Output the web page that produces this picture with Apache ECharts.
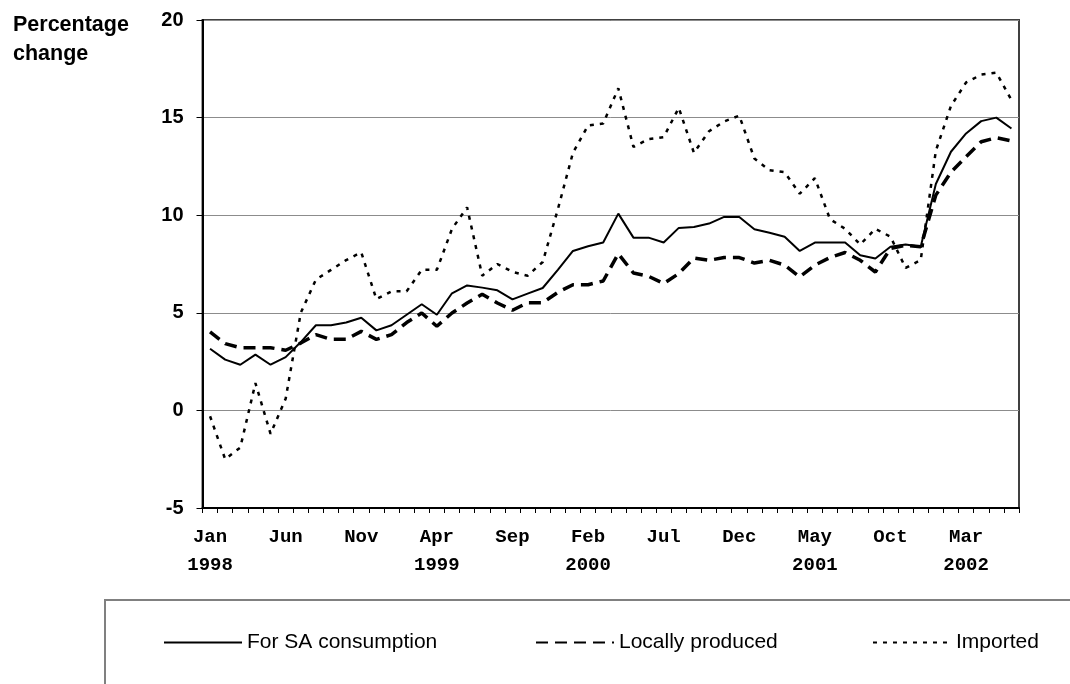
<!DOCTYPE html>
<html>
<head>
<meta charset="utf-8">
<script src="https://cdn.jsdelivr.net/npm/echarts@6/dist/echarts.min.js"></script>
<style>html,body{margin:0;padding:0;background:#fff;}#c{width:1070px;height:684px;}</style>
</head>
<body>
<div id="c"></div>
<script>
// ---- data ----
const monthNames = ['Jan','Feb','Mar','Apr','May','Jun','Jul','Aug','Sep','Oct','Nov','Dec'];
const startYear = 1998;
const monthCount = 54; // Jan 1998 .. Jun 2002
const seriesNames = ['For SA consumption', 'Locally produced', 'Imported'];
const saConsumption = [3.16,2.6,2.34,2.86,2.34,2.73,3.5,4.36,4.36,4.5,4.75,4.1,4.36,4.9,5.44,4.9,6.0,6.4,6.29,6.15,5.69,5.98,6.27,7.2,8.17,8.41,8.6,10.08,8.85,8.85,8.6,9.35,9.4,9.57,9.91,9.91,9.28,9.1,8.9,8.17,8.6,8.6,8.6,7.95,7.78,8.38,8.5,8.38,11.6,13.25,14.19,14.82,15.0,14.44];
const locallyProduced = [4.02,3.42,3.21,3.21,3.21,3.08,3.45,3.88,3.64,3.64,4.05,3.64,3.88,4.5,4.99,4.31,4.99,5.5,5.95,5.5,5.13,5.52,5.52,6.05,6.44,6.44,6.63,8.03,7.04,6.87,6.5,7.01,7.81,7.69,7.83,7.83,7.55,7.69,7.44,6.84,7.44,7.83,8.09,7.69,7.09,8.3,8.46,8.38,11.03,12.2,13.0,13.76,13.97,13.81];
const imported = [-0.3,-2.5,-1.9,1.4,-1.2,0.6,5.0,6.7,7.2,7.7,8.1,5.7,6.1,6.1,7.2,7.2,9.3,10.4,6.9,7.5,7.1,6.9,7.6,10.3,13.2,14.6,14.7,16.5,13.5,13.9,14.0,15.5,13.2,14.3,14.8,15.1,12.9,12.3,12.2,11.1,11.9,9.8,9.3,8.5,9.3,8.9,7.3,7.7,13.3,15.6,16.8,17.2,17.3,15.9];
const yTicks = { min: -5, max: 20, interval: 5 };

const categories = [];
for (let i = 0; i < monthCount; i++) {
  categories.push(monthNames[i % 12] + ' ' + (startYear + Math.floor(i / 12)));
}
const yearShownFor = {};
(function(){ let prev=null; for (let i=0;i<categories.length;i+=5){ const y=categories[i].split(' ')[1]; yearShownFor[i]= (y!==prev)? y : ' '; prev=y; } })();

const chart = echarts.init(document.getElementById('c'));

const legendCommon = {
  top: 632, itemWidth: 78, itemHeight: 22, padding: 0, itemGap: 0,
  textStyle: { fontFamily: 'Liberation Sans, Arial', fontSize: 21, color: '#000' },
  itemStyle: { opacity: 0 },
  selectedMode: false
};

chart.setOption({
  animation: false,
  backgroundColor: '#fff',
  title: {
    text: 'Percentage\nchange', left: 8, top: 6,
    textStyle: { fontFamily: 'Liberation Sans, Arial', fontWeight: 'bold', fontSize: 21.5, lineHeight: 29, color: '#000' }
  },
  grid: { left: 202.5, right: 51, top: 20, bottom: 176, show: true, borderColor: '#404040', borderWidth: 2 },
  legend: [
    Object.assign({ left: 163, data: [seriesNames[0]] }, legendCommon),
    Object.assign({ left: 535, data: [seriesNames[1]] }, legendCommon),
    Object.assign({ left: 872, data: [seriesNames[2]] }, legendCommon)
  ],
  graphic: [{
    type: 'rect', shape: { x: 105, y: 600, width: 1000, height: 150 },
    style: { fill: 'none', stroke: '#808080', lineWidth: 2 }, silent: true, z: -1
  }],
  xAxis: {
    type: 'category', data: categories, boundaryGap: true,
    axisLine: { onZero: false, lineStyle: { color: '#000', width: 2 } },
    axisTick: { show: true, interval: 0, length: 5, lineStyle: { color: '#000', width: 1 } },
    axisLabel: {
      interval: 4, margin: 15, color: '#000',
      formatter: function (value, idx) {
        const p = value.split(' ');
        const yr = yearShownFor[idx] !== undefined ? yearShownFor[idx] : ' ';
        return '{m|' + p[0] + '}\n{y|' + yr + '}';
      },
      rich: {
        m: { fontFamily: 'Liberation Mono, Courier New', fontWeight: 'bold', fontSize: 19, lineHeight: 28, color: '#000' },
        y: { fontFamily: 'Liberation Mono, Courier New', fontWeight: 'bold', fontSize: 19, lineHeight: 28, color: '#000' }
      }
    },
    splitLine: { show: false }
  },
  yAxis: {
    type: 'value', min: yTicks.min, max: yTicks.max, interval: yTicks.interval,
    axisLine: { show: true, lineStyle: { color: '#000', width: 2 } },
    axisTick: { show: true, length: 6, lineStyle: { color: '#000', width: 1 } },
    axisLabel: { margin: 19, color: '#000', fontFamily: 'Liberation Sans, Arial', fontWeight: 'bold', fontSize: 20 },
    splitLine: { show: true, lineStyle: { color: '#8c8c8c', width: 1 } }
  },
  series: [
    { name: seriesNames[0], type: 'line', data: saConsumption, symbol: 'none', smooth: false,
      lineStyle: { color: '#000', width: 2, type: 'solid' }, itemStyle: { color: '#000' }, z: 3 },
    { name: seriesNames[1], type: 'line', data: locallyProduced, symbol: 'none',
      lineStyle: { color: '#000', width: 3.5, type: [12, 7] }, itemStyle: { color: '#000' }, z: 2 },
    { name: seriesNames[2], type: 'line', data: imported, symbol: 'none',
      lineStyle: { color: '#000', width: 2.5, type: [4, 6] }, itemStyle: { color: '#000' }, z: 1 }
  ]
});
</script>
</body>
</html>
